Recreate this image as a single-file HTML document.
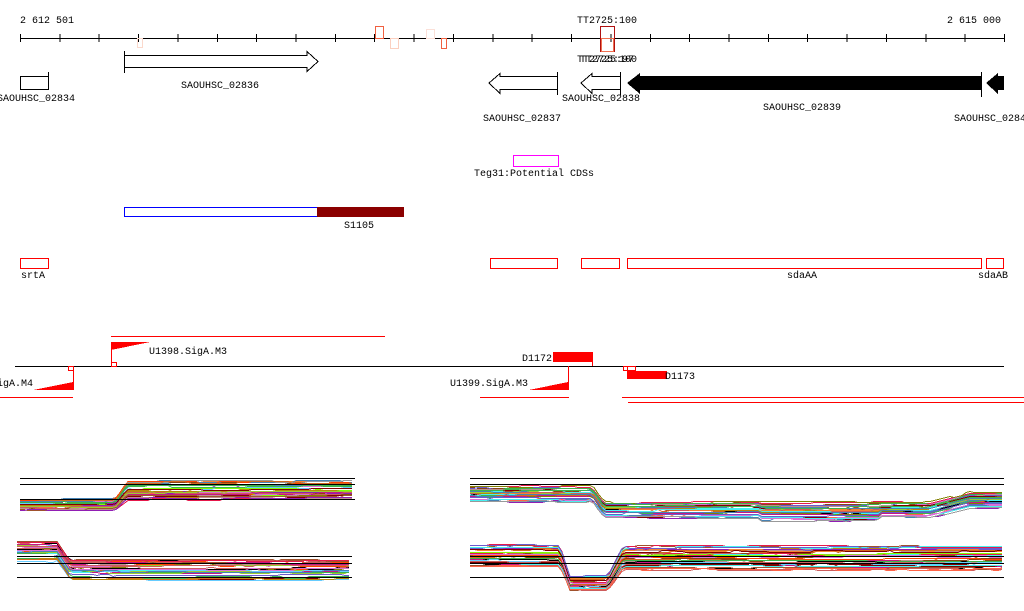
<!DOCTYPE html>
<html><head><meta charset="utf-8"><style>
html,body{margin:0;padding:0;background:#fff;}
svg{display:block;}
text{font-family:"Liberation Mono","DejaVu Sans Mono",monospace;font-size:10px;fill:#000;}
</style></head><body>
<svg id="s" width="1024" height="611" viewBox="0 0 1024 611" xmlns="http://www.w3.org/2000/svg" shape-rendering="crispEdges">
<text x="20" y="23">2 612 501</text>
<text x="1001" y="23" text-anchor="end">2 615 000</text>
<text x="607" y="23" text-anchor="middle">TT2725:100</text>
<line x1="20" y1="38.5" x2="1004" y2="38.5" stroke="#000"/>
<g id="ticks" stroke="#000"></g>
<rect x="137.5" y="38.5" width="5" height="9" fill="none" stroke="#fbd9cc"/>
<rect x="375.5" y="26.5" width="8" height="12" fill="none" stroke="#f06040"/>
<rect x="390.5" y="38.5" width="8" height="10" fill="none" stroke="#fbd0c0"/>
<rect x="426.5" y="29.5" width="8" height="9" fill="none" stroke="#fbe0d8"/>
<rect x="441.5" y="38.5" width="5" height="10" fill="none" stroke="#f06040"/>
<rect x="600.5" y="26.5" width="14" height="25" fill="none" stroke="#b01010"/>
<rect x="601.5" y="38.5" width="12" height="13" fill="none" stroke="#f07050"/>
<text x="607" y="62" text-anchor="middle">TT2725:97</text>
<text x="607" y="62" text-anchor="middle">TT2725:100</text>
<line x1="124.5" y1="51" x2="124.5" y2="73" stroke="#000"/>
<polygon points="124.5,55.5 307,55.5 307,51.5 318,61.5 307,71.5 307,67.5 124.5,67.5" fill="#fff" stroke="#000"/>
<text x="220" y="88" text-anchor="middle">SAOUHSC_02836</text>
<rect x="20.5" y="76.5" width="28" height="13" fill="#fff" stroke="#000"/>
<line x1="48.5" y1="72" x2="48.5" y2="90" stroke="#000"/>
<text x="36" y="101" text-anchor="middle">SAOUHSC_02834</text>
<polygon points="557.5,76.5 500,76.5 500,73.5 489,83 500,93.5 500,89.5 557.5,89.5" fill="#fff" stroke="#000"/>
<line x1="557.5" y1="72" x2="557.5" y2="95" stroke="#000"/>
<text x="522" y="121" text-anchor="middle">SAOUHSC_02837</text>
<polygon points="620.5,76.5 592,76.5 592,73.5 581,83 592,93.5 592,89.5 620.5,89.5" fill="#fff" stroke="#000"/>
<line x1="620.5" y1="72" x2="620.5" y2="95" stroke="#000"/>
<text x="601" y="101" text-anchor="middle">SAOUHSC_02838</text>
<polygon points="981,76 640,76 640,73 627,83 640,94 640,90 981,90" fill="#000"/>
<line x1="981.5" y1="72" x2="981.5" y2="97" stroke="#000"/>
<text x="802" y="110" text-anchor="middle">SAOUHSC_02839</text>
<polygon points="1004,76 998,76 998,73 986,83 998,94 998,90 1004,90" fill="#000"/>
<text x="954" y="121">SAOUHSC_02840</text>
<rect x="513.5" y="155.5" width="45" height="11" fill="none" stroke="#f0f"/>
<text x="534" y="176" text-anchor="middle">Teg31:Potential CDSs</text>
<rect x="124.5" y="207.5" width="193" height="9" fill="#fff" stroke="#00f"/>
<rect x="317" y="207" width="87" height="10" fill="#8b0000"/>
<text x="344" y="228">S1105</text>
<g fill="none" stroke="#f00">
<rect x="20.5" y="258.5" width="28" height="10"/>
<rect x="490.5" y="258.5" width="67" height="10"/>
<rect x="581.5" y="258.5" width="38" height="10"/>
<rect x="627.5" y="258.5" width="354" height="10"/>
<rect x="986.5" y="258.5" width="17" height="10"/>
</g>
<text x="21" y="278">srtA</text>
<text x="802" y="278" text-anchor="middle">sdaAA</text>
<text x="978" y="278">sdaAB</text>
<line x1="111" y1="336.5" x2="385" y2="336.5" stroke="#f00"/>
<line x1="15" y1="366.5" x2="1004" y2="366.5" stroke="#000"/>
<line x1="111.5" y1="342" x2="111.5" y2="366" stroke="#f00"/>
<polygon points="111,342 150,342 111,350" fill="#f00"/>
<rect x="111.5" y="362.5" width="5" height="4" fill="#fff" stroke="#f00"/>
<text x="149" y="354">U1398.SigA.M3</text>
<line x1="73.5" y1="366" x2="73.5" y2="390" stroke="#f00"/>
<polygon points="33,390 73,390 73,382" fill="#f00"/>
<rect x="68.5" y="366.5" width="5" height="4" fill="#fff" stroke="#f00"/>
<text x="33" y="386" text-anchor="end">U1397.SigA.M4</text>
<line x1="0" y1="397.5" x2="73" y2="397.5" stroke="#f00"/>
<rect x="553" y="352" width="40" height="10" fill="#f00"/>
<line x1="592.5" y1="362" x2="592.5" y2="366" stroke="#f00"/>
<text x="552" y="361" text-anchor="end">D1172</text>
<line x1="568.5" y1="366" x2="568.5" y2="390" stroke="#f00"/>
<polygon points="529,390 568,390 568,382" fill="#f00"/>
<text x="528" y="386" text-anchor="end">U1399.SigA.M3</text>
<line x1="480" y1="397.5" x2="569" y2="397.5" stroke="#f00"/>
<rect x="623.5" y="366.5" width="4" height="4" fill="#fff" stroke="#f00"/>
<rect x="627.5" y="366.5" width="8" height="4" fill="#fff" stroke="#f00"/>
<rect x="627" y="371" width="40" height="8" fill="#f00"/>
<text x="665" y="379">D1173</text>
<line x1="622" y1="397.5" x2="1024" y2="397.5" stroke="#f00"/>
<line x1="628" y1="402.5" x2="1024" y2="402.5" stroke="#f00"/>
<g id="plots" fill="none" stroke-width="1"></g>
<g stroke="#000">
<line x1="20" y1="478.5" x2="355" y2="478.5"/><line x1="20" y1="484.5" x2="355" y2="484.5"/>
<line x1="20" y1="499.5" x2="355" y2="499.5"/>
<line x1="17" y1="556.5" x2="352" y2="556.5"/><line x1="17" y1="563.5" x2="352" y2="563.5"/>
<line x1="17" y1="577.5" x2="352" y2="577.5"/>
<line x1="470" y1="478.5" x2="1004" y2="478.5"/><line x1="470" y1="484.5" x2="1004" y2="484.5"/>
<line x1="470" y1="556.5" x2="1004" y2="556.5"/><line x1="470" y1="563.5" x2="1004" y2="563.5"/>
<line x1="470" y1="577.5" x2="1004" y2="577.5"/>
</g>
</svg>
<script>
(function(){
var NS="http://www.w3.org/2000/svg";
var t=document.getElementById("ticks");
for(var i=0;i<26;i++){var x=20.5+i*39.36;if(x>1005)break;var l=document.createElementNS(NS,"line");
l.setAttribute("x1",x);l.setAttribute("x2",x);l.setAttribute("y1",34);l.setAttribute("y2",42);t.appendChild(l);}
var seed=7;function r(){seed=(seed*16807)%2147483647;return seed/2147483647;}
var cols=["#e6194b","#3cb44b","#8b4513","#f58231","#911eb4","#46f0f0","#808000","#c71585","#66ccff","#9acd32","#a0522d","#ff6347","#b8860b","#000","#6a5acd","#d2691e","#7fff00","#cd5c5c","#999","#bc8f8f","#4682b4","#ff4500","#800000","#da70d6"];
var g=document.getElementById("plots");
function plot(x0,x1,prof,n){
 for(var k=0;k<n;k++){var off=r(),pts=[],d=0;
  for(var x=x0;x<=x1;x+=4){ if(r()<0.12) d=Math.round((r()-0.5)*3);
   var y=Math.round(prof(x,off)+d)+0.5;pts.push(x+","+y);}
  var p=document.createElementNS(NS,"polyline");p.setAttribute("points",pts.join(" "));
  p.setAttribute("stroke",cols[Math.floor(r()*cols.length)]);g.appendChild(p);}
}
function lerp(a,b,t){t=Math.max(0,Math.min(1,t));return a+(b-a)*t;}
plot(20,352,function(x,o){var lo=499+o*12,hi=481+o*19;return lerp(lo,hi,(x-115)/12);},35);
plot(17,352,function(x,o){var a=541+o*20,b=560+o*20;return lerp(a,b,(x-57)/13);},35);
plot(470,1004,function(x,o){var a=484+o*17,b=500+o*17;var y=lerp(a,b,(x-592)/12);
 if(x>760&&x<880)y+=3*o; if(x>930)y=lerp(y,y-10,(x-930)/40);return y;},38);
plot(470,1004,function(x,o){var a=545+o*22,b=576+o*14,c=546+o*24;
 return x<600?lerp(a,b,(x-560)/10):lerp(b,c,(x-608)/15);},38);
})();
</script>
</body></html>
